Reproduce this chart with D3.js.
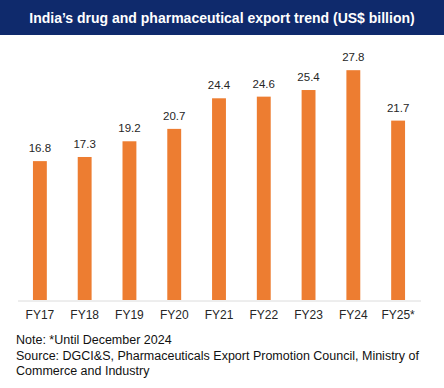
<!DOCTYPE html>
<html>
<head>
<meta charset="utf-8">
<script src="https://cdn.jsdelivr.net/npm/d3@7"></script>
<style>
  body { margin: 0; background: #fff; }
  svg { display: block; font-family: "Liberation Sans", Arial, sans-serif; }
</style>
</head>
<body>
<svg id="chart" width="444" height="388"></svg>
<script>
// data
const years = ['FY17', 'FY18', 'FY19', 'FY20', 'FY21', 'FY22', 'FY23', 'FY24', 'FY25*'];
const exportsBn = [16.8, 17.3, 19.2, 20.7, 24.4, 24.6, 25.4, 27.8, 21.7];
const titleText = 'India\u2019s drug and pharmaceutical export trend (US$ billion)';
const noteLines = [
    'Note: *Until December 2024',
    'Source: DGCI&S, Pharmaceuticals Export Promotion Council, Ministry of',
    'Commerce and Industry'
];

const svg = d3.select('#chart');

// title band
svg.append('rect').attr('x', 0).attr('y', 0).attr('width', 444).attr('height', 35).attr('fill', '#0f2a6c');
svg.append('text')
    .attr('x', 222).attr('y', 23)
    .attr('text-anchor', 'middle')
    .attr('fill', '#fff')
    .attr('font-size', 14)
    .attr('font-weight', 'bold')
    .text(titleText);

// scales
const xScale = d3.scaleBand().domain(years).range([17.5, 420.5]).paddingInner(0.69).paddingOuter(0.345);
const yScale = d3.scaleLinear().domain([0, 30]).range([300, 52]);

// bars
svg.append('g').selectAll('rect')
    .data(exportsBn)
    .join('rect')
    .attr('x', (d, i) => xScale(years[i]))
    .attr('y', d => yScale(d))
    .attr('width', xScale.bandwidth())
    .attr('height', d => yScale(0) - yScale(d))
    .attr('fill', '#ed7d31');

// value labels
svg.append('g').selectAll('text')
    .data(exportsBn)
    .join('text')
    .attr('x', (d, i) => xScale(years[i]) + xScale.bandwidth() / 2)
    .attr('y', d => yScale(d) - 9)
    .attr('text-anchor', 'middle')
    .attr('font-size', 11.5)
    .attr('fill', '#262626')
    .text(d => d.toFixed(1));

// x axis
const xAxis = d3.axisBottom(xScale).tickSize(0).tickPadding(10).tickSizeOuter(0);
const xAxisG = svg.append('g').attr('transform', 'translate(0,300.5)').call(xAxis);
xAxisG.select('.domain').attr('stroke', '#dcdcdc');
xAxisG.selectAll('text')
    .attr('font-size', 12)
    .attr('fill', '#262626')
    .attr('font-family', '"Liberation Sans", Arial, sans-serif');

// footnotes
svg.append('g').selectAll('text')
    .data(noteLines)
    .join('text')
    .attr('x', 16)
    .attr('y', (d, i) => 344 + i * 15.7)
    .attr('font-size', 12.5)
    .attr('fill', '#111')
    .text(d => d);
</script>
</body>
</html>
